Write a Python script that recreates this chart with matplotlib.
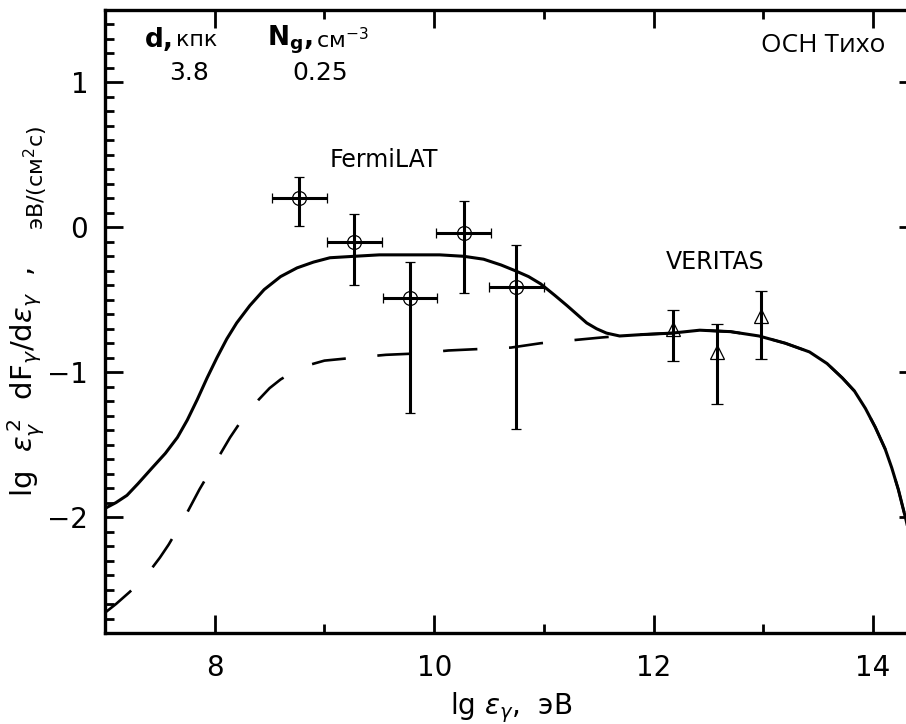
import matplotlib.pyplot as plt
from matplotlib.ticker import MultipleLocator

# model spectra: total (solid) and the hadronic-only part (dashed)
lg_e_total = [7.0, 7.1, 7.2, 7.3, 7.43, 7.55, 7.66, 7.75, 7.84, 7.93, 8.02, 8.11,
              8.2, 8.32, 8.45, 8.6, 8.75, 8.9, 9.05, 9.27, 9.5, 9.8, 10.05, 10.27,
              10.45, 10.61, 10.74, 10.86, 10.97, 11.1, 11.21, 11.3, 11.39, 11.48,
              11.57, 11.69, 11.9, 12.17, 12.42, 12.7, 12.96, 13.2, 13.42, 13.58,
              13.72, 13.83, 13.93, 14.02, 14.11, 14.17, 14.23, 14.3, 14.37]
lg_flux_total = [-1.94, -1.90, -1.85, -1.77, -1.66, -1.56, -1.45, -1.33, -1.19, -1.04,
                 -0.90, -0.77, -0.66, -0.54, -0.43, -0.34, -0.28, -0.24, -0.21, -0.20,
                 -0.19, -0.19, -0.19, -0.20, -0.22, -0.26, -0.30, -0.34, -0.39, -0.47,
                 -0.54, -0.60, -0.66, -0.70, -0.73, -0.75, -0.74, -0.73, -0.71, -0.72,
                 -0.75, -0.80, -0.86, -0.94, -1.04, -1.13, -1.25, -1.38, -1.53, -1.66,
                 -1.81, -2.02, -2.25]

lg_e_pp = [7.0, 7.1, 7.22, 7.32, 7.41, 7.5, 7.58, 7.65, 7.72, 7.79, 7.86, 7.93,
           8.0, 8.07, 8.14, 8.22, 8.31, 8.4, 8.5, 8.6, 8.73, 8.86, 9.0, 9.27,
           9.56, 9.86, 10.13, 10.41, 10.7, 10.97, 11.25, 11.53, 11.69, 11.9, 12.17,
           12.42, 12.7, 12.96, 13.2, 13.42, 13.58, 13.72, 13.83, 13.93, 14.02,
           14.11, 14.17, 14.23, 14.3, 14.37]
lg_flux_pp = [-2.66, -2.60, -2.52, -2.45, -2.37, -2.28, -2.19, -2.10, -2.01, -1.91,
              -1.81, -1.72, -1.63, -1.54, -1.45, -1.36, -1.28, -1.19, -1.11, -1.05,
              -0.99, -0.95, -0.92, -0.90, -0.88, -0.87, -0.85, -0.84, -0.83, -0.80,
              -0.78, -0.76, -0.75, -0.74, -0.73, -0.71, -0.72, -0.75, -0.80, -0.86,
              -0.94, -1.04, -1.13, -1.25, -1.38, -1.53, -1.66, -1.81, -2.02, -2.25]

# Fermi-LAT points
fermi_x = [8.77, 9.27, 9.78, 10.27, 10.75]
fermi_xerr = [0.25, 0.25, 0.25, 0.25, 0.25]
fermi_y = [0.20, -0.10, -0.49, -0.04, -0.41]
fermi_yerr_lo = [0.19, 0.30, 0.79, 0.41, 0.98]
fermi_yerr_hi = [0.15, 0.19, 0.25, 0.22, 0.29]

# VERITAS points
veritas_x = [12.18, 12.58, 12.98]
veritas_y = [-0.70, -0.86, -0.61]
veritas_yerr_lo = [0.22, 0.36, 0.30]
veritas_yerr_hi = [0.13, 0.19, 0.17]

plt.rcParams['font.family'] = ['DejaVu Sans']

fig = plt.figure(figsize=(9.06, 7.24), dpi=100)
ax = fig.add_axes([105 / 906, 1 - 633 / 724, 812 / 906, 623 / 724])

ax.plot(lg_e_total, lg_flux_total, color='black', lw=2.2)
ax.plot(lg_e_pp, lg_flux_pp, color='black', lw=1.9, linestyle=(0, (13, 12)))

ax.errorbar(fermi_x, fermi_y, xerr=fermi_xerr, yerr=[fermi_yerr_lo, fermi_yerr_hi],
            fmt='o', mfc='none', mec='black', mew=0.9, ms=10, ecolor='black',
            elinewidth=2.2, capsize=3.5, capthick=2.2)
ax.errorbar(veritas_x, veritas_y, yerr=[veritas_yerr_lo, veritas_yerr_hi],
            fmt='^', mfc='none', mec='black', mew=0.9, ms=10, ecolor='black',
            elinewidth=2.2, capsize=4, capthick=2.2)

ax.set_xlim(7.0, 14.4)
ax.set_ylim(-2.8, 1.5)
ax.xaxis.set_major_locator(MultipleLocator(2))
ax.xaxis.set_minor_locator(MultipleLocator(1))
ax.yaxis.set_major_locator(MultipleLocator(1))
ax.yaxis.set_minor_locator(MultipleLocator(0.1))
ax.tick_params(which='both', direction='in', top=True, right=True, width=2,
               labelsize=20)
ax.tick_params(which='major', length=13)
ax.tick_params(which='minor', length=6.5)
ax.tick_params(axis='x', pad=15)
ax.tick_params(axis='y', pad=12)
for s in ax.spines.values():
    s.set_linewidth(2.4)

ax.set_xlabel(r'lg $\epsilon_\gamma$,  эВ', fontsize=20, labelpad=6)

# y label in two pieces, the units in a smaller size
fig.text(0.029, 1 - 382 / 724,
         r'lg  $\epsilon_\gamma^{\,2}$  dF$_\gamma$/d$\epsilon_\gamma$  ,',
         rotation=90, fontsize=21, ha='center', va='center')
fig.text(0.040, 1 - 178 / 724, 'эВ/(см$^2$с)', rotation=90, fontsize=16,
         ha='center', va='center')

# source parameters
fig.text(145 / 906, 1 - 40 / 724, 'd,', fontsize=19, fontweight='bold', va='center')
fig.text(176 / 906, 1 - 40 / 724, 'кпк', fontsize=16, va='center')
fig.text(189 / 906, 1 - 73 / 724, '3.8', fontsize=18, ha='center', va='center')
fig.text(267 / 906, 1 - 40 / 724, r'N$_\mathbf{g}$,', fontsize=19, fontweight='bold',
         va='center')
fig.text(316 / 906, 1 - 40 / 724, 'см$^{-3}$', fontsize=16, va='center')
fig.text(320 / 906, 1 - 73 / 724, '0.25', fontsize=18, ha='center', va='center')

fig.text(823 / 906, 1 - 45 / 724, 'ОСН Тихо', fontsize=19, family='Open Sans',
         ha='center', va='center')
fig.text(384 / 906, 1 - 160 / 724, 'FermiLAT', fontsize=17, ha='center', va='center')
fig.text(715 / 906, 1 - 262 / 724, 'VERITAS', fontsize=17, ha='center', va='center')

fig.savefig('out.png', dpi=100)
